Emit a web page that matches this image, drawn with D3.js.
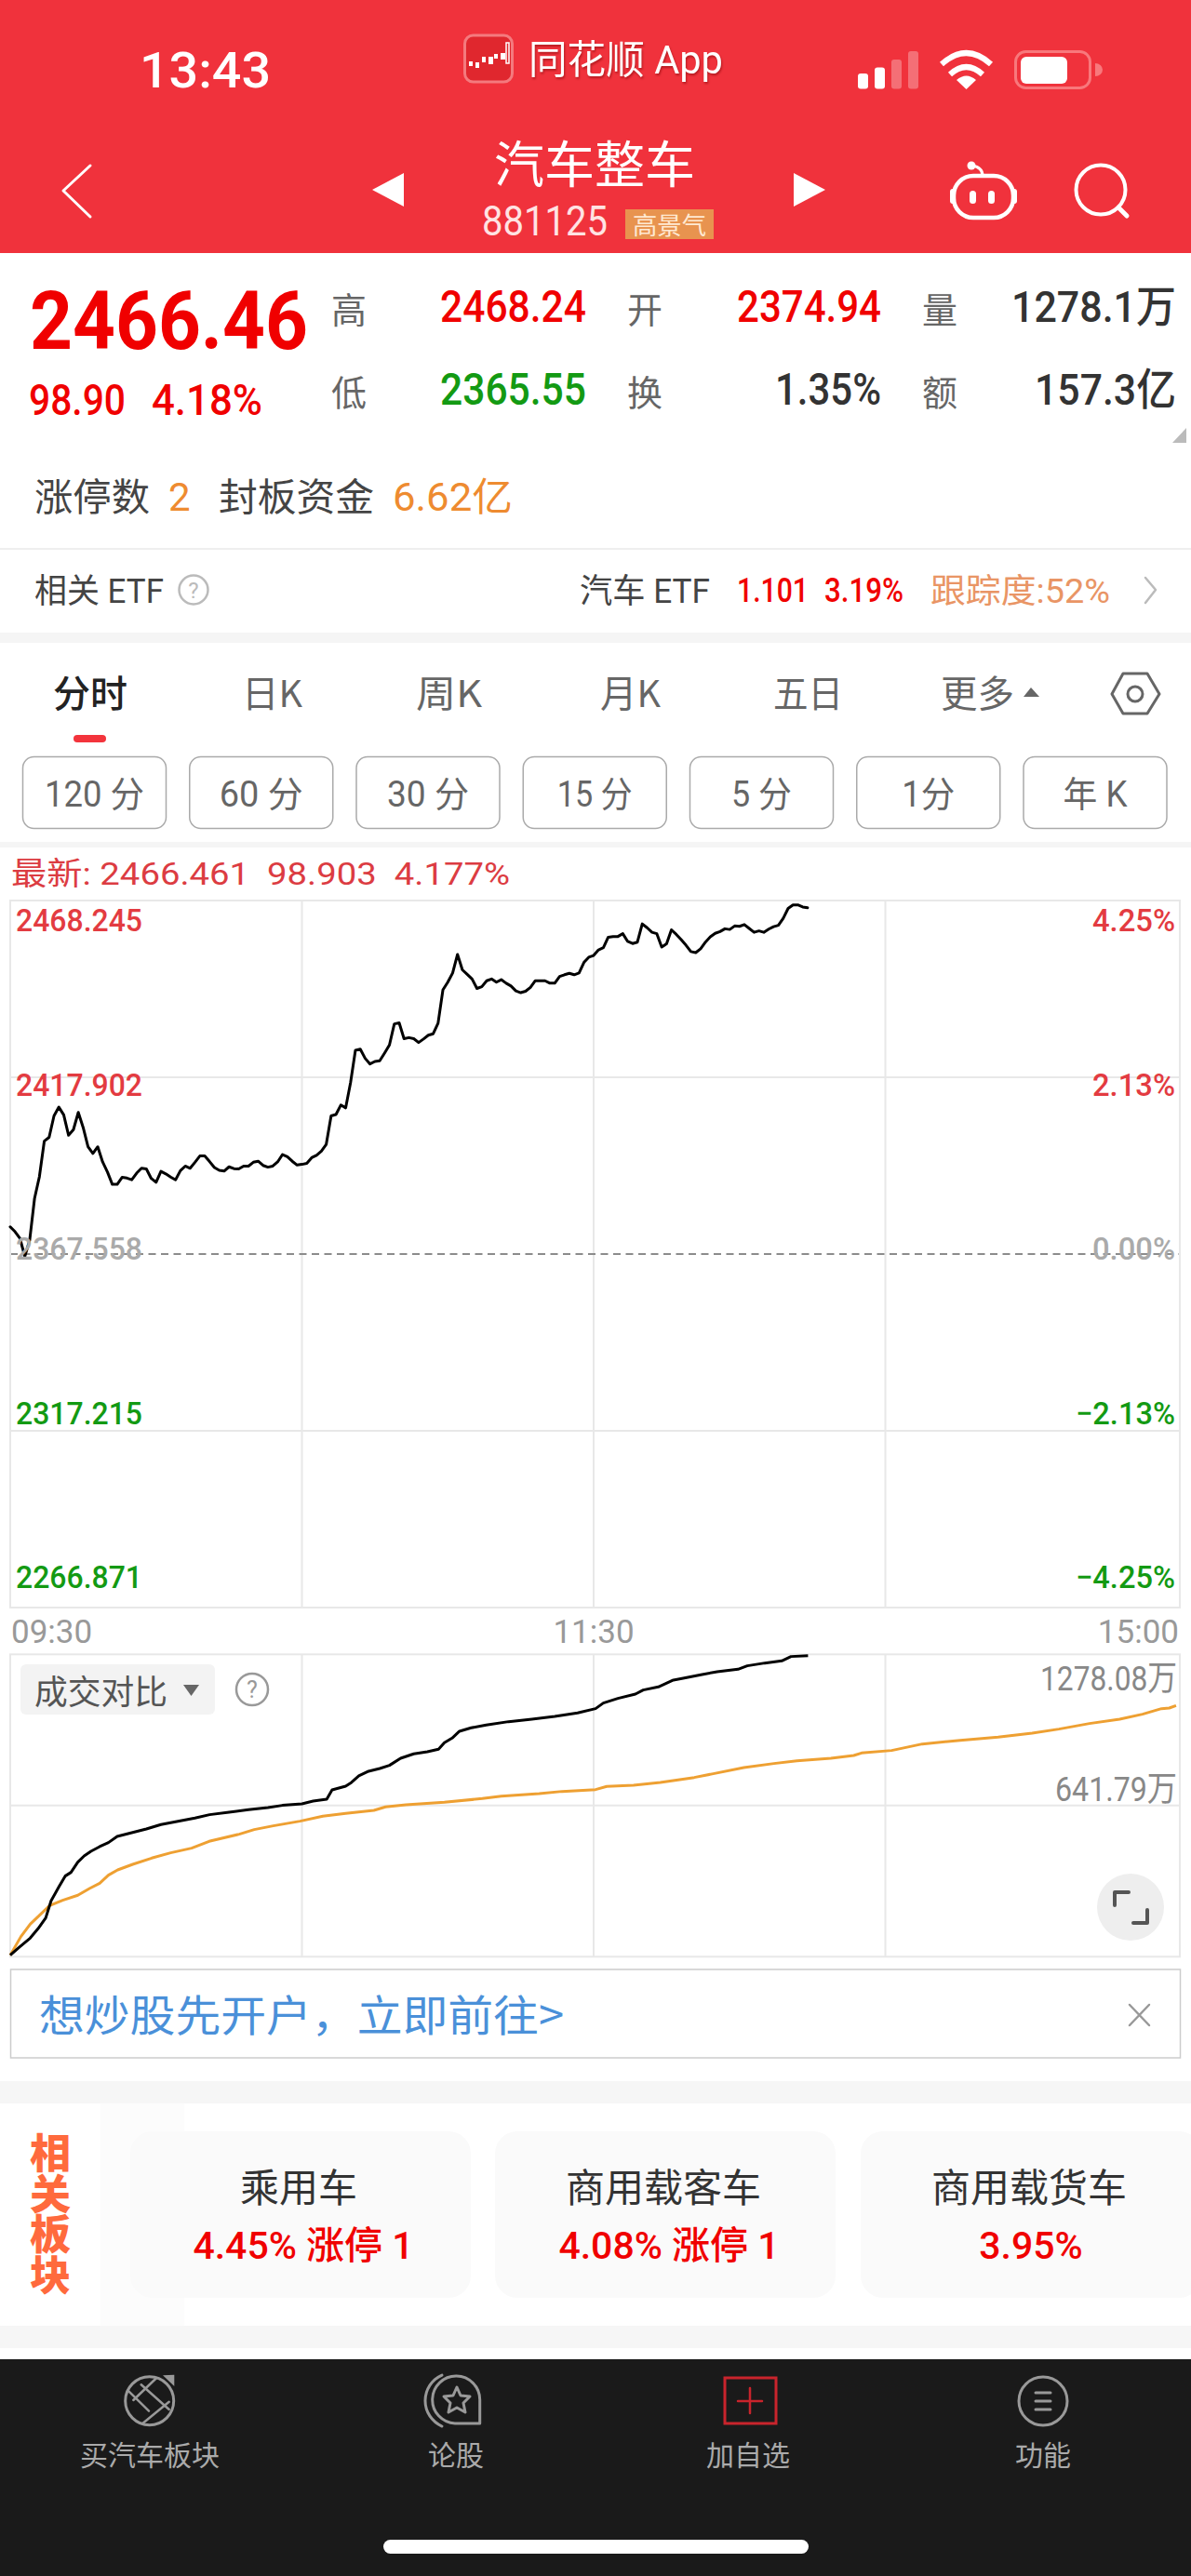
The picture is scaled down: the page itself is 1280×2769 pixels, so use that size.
<!DOCTYPE html>
<html>
<head>
<meta charset="utf-8">
<title>汽车整车</title>
<script src="https://cdn.jsdelivr.net/npm/d3@7"></script>
<style>
  html, body { margin: 0; padding: 0; background: #fff; }
  svg { display: block; }
</style>
</head>
<body>
<div id="chart"></div>
<script>
// 分时 close by minute since 09:30 (lunch break removed)
const priceValues = [
  2375.3, 2373.9, 2372.0, 2366.9, 2371.5, 2383.4, 2389.6, 2399.7, 2400.8, 2406.9,
  2409.4, 2407.2, 2401.4, 2403.0, 2407.9, 2403.6, 2398.1, 2396.2, 2398.1, 2393.8,
  2390.9, 2387.4, 2387.4, 2389.4, 2389.2, 2388.7, 2390.6, 2392.0, 2391.8, 2389.1,
  2388.0, 2391.1, 2390.4, 2389.5, 2388.7, 2391.3, 2392.6, 2392.0, 2393.7, 2395.5,
  2395.5, 2393.9, 2392.2, 2391.4, 2391.2, 2392.4, 2391.9, 2391.8, 2392.6, 2392.6,
  2393.7, 2394.0, 2392.8, 2392.3, 2392.6, 2393.8, 2395.9, 2395.3, 2394.0, 2392.9,
  2393.1, 2393.4, 2395.0, 2395.7, 2396.9, 2398.8, 2406.9, 2407.3, 2410.0, 2409.2,
  2416.4, 2425.6, 2425.9, 2423.3, 2421.7, 2422.4, 2422.6, 2424.8, 2427.1, 2433.1,
  2433.4, 2428.9, 2429.2, 2428.9, 2427.8, 2428.8, 2429.9, 2430.3, 2433.3, 2442.8,
  2445.0, 2447.6, 2452.9, 2448.5, 2447.2, 2445.9, 2443.2, 2443.7, 2445.4, 2445.9,
  2445.0, 2445.7, 2444.7, 2443.9, 2442.5, 2442.0, 2442.4, 2443.5, 2445.4, 2445.4,
  2445.4, 2444.7, 2444.7, 2446.6, 2447.1, 2447.5, 2447.1, 2447.6, 2450.6, 2452.1,
  2452.6, 2454.2, 2454.8, 2457.8, 2458.0, 2458.0, 2458.8, 2456.6, 2456.0, 2456.4,
  2461.6, 2460.5, 2459.2, 2458.8, 2455.0, 2455.9, 2459.9, 2458.6, 2457.1, 2455.5,
  2453.7, 2453.4, 2454.5, 2456.4, 2457.9, 2458.9, 2459.4, 2460.2, 2460.0, 2461.0,
  2460.9, 2461.4, 2460.3, 2459.2, 2459.6, 2459.2, 2460.1, 2460.8, 2461.2, 2463.2,
  2466.0, 2467.0, 2467.0, 2466.4, 2466.2
];

// 成交对比: cumulative volume (万), black = today, orange = previous day
const todayMinutes = [
  0, 1.8, 4.1, 5.7, 7.3, 8.4, 10, 11.3, 12.5, 13.9, 15.2, 16.6, 18.4, 20.2, 22, 25, 28, 31, 35, 38, 41, 45, 49, 53, 56, 60, 62.3,
  65.1, 66.2, 69, 70.2, 71.7, 73.7, 76, 78, 80.3, 83, 85.8, 88.1, 89.3, 90.9, 92.4, 94.8, 97.9, 102.5, 107.3, 112, 116.7, 120.4,
  122, 125, 128.6, 130.2, 133.3, 136.4, 138.4, 142.3, 145.4, 149.7, 151.6, 155.2, 158.7, 160.6, 164.1
];
const todayVolume = [
  6.6, 39.5, 79.0, 118.5, 164.6, 237.0, 296.2, 342.3, 358.1, 401.5, 427.9, 447.6, 467.4, 484.5, 510.8,
  526.6, 542.4, 560.8, 576.6, 588.5, 603.0, 613.5, 624.0, 633.2, 642.5, 649.0, 660.9,
  668.8, 708.3, 724.1, 739.9, 767.5, 787.3, 799.1, 812.3, 842.6, 861.0, 870.2, 880.7, 908.4, 928.1,
  957.1, 971.6, 983.4, 997.9, 1008.4, 1020.3, 1034.8, 1053.2,
  1076.9, 1096.6, 1115.1, 1132.2, 1145.4, 1174.3, 1182.2, 1198.0, 1209.9, 1220.4, 1234.9, 1246.7,
  1255.9, 1274.4, 1278.08
];
const prevMinutes = [
  0, 2.2, 4.1, 6.1, 8.1, 10.8, 13.9, 16.3, 18.4, 20.2, 22.1, 25.2, 29.1, 33, 37.3, 40.9, 47.1, 50.2, 54.1, 59.6, 64.3, 69, 74.8, 77.2, 81.4, 89.3,
  97.1, 101, 108.8, 113.5, 120.4, 122.7, 128.2, 133.7, 140.7, 144.6, 150.9, 157.1, 161.8, 168.8, 173.5, 175.1, 181.3, 187.6, 195.4, 203.2,
  210.2, 215.7, 222, 228.2, 232.9, 236.8, 238.4, 239.8
];
const prevVolume = [
  6.6, 85.6, 138.2, 177.7, 217.2, 239.6, 260.7, 289.6, 312.0, 346.2, 368.6, 392.3, 418.6, 441.0, 460.8,
  489.7, 520.0, 539.8, 555.6, 575.3, 596.4, 608.2, 621.4, 635.9, 645.1, 655.6,
  671.4, 681.9, 692.5, 701.7, 709.6, 722.8, 728.0, 739.9, 760.9, 776.7, 803.1, 820.2, 832.0, 842.6,
  854.4, 864.9, 875.5, 903.1, 918.9, 932.1, 949.2, 966.3, 990.0, 1008.4, 1029.5, 1053.2, 1055.8, 1066.4
];

const priceTicks = [2468.245, 2417.902, 2367.558, 2317.215, 2266.871];
const priceLabels = ["2468.245", "2417.902", "2367.558", "2317.215", "2266.871"];
const pctLabels = ["4.25%", "2.13%", "0.00%", "−2.13%", "−4.25%"];
const timeMinutes = [0, 120, 240];
const timeLabels = ["09:30", "11:30", "15:00"];
const volumeMax = 1283.58;
const volumeLabels = ["1278.08万", "641.79万"];

const tabs = ["分时", "日K", "周K", "月K", "五日", "更多"];
const periods = ["120 分", "60 分", "30 分", "15 分", "5 分", "1分", "年 K"];
const relatedNames = ["乘用车", "商用载客车", "商用载货车"];
const relatedChanges = ["4.45% 涨停 1", "4.08% 涨停 1", "3.95%"];
const footerItems = ["买汽车板块", "论股", "加自选", "功能"];

const W = 1280, H = 2769;
const RED = "#f0323c", UP = "#f00000", DOWN = "#139a13", ORANGE = "#ee8b30";
const FONT = "Roboto, 'Noto Sans CJK SC', sans-serif";
const CJK = "'Noto Sans CJK SC', sans-serif";

const svg = d3.select("#chart").append("svg")
  .attr("width", W).attr("height", H).attr("viewBox", `0 0 ${W} ${H}`)
  .style("font-family", FONT);

function txt(parent, s, x, y, o = {}) {
  const t = parent.append("text")
    .attr("x", x).attr("y", y)
    .attr("fill", o.fill || "#333")
    .attr("text-anchor", o.anchor || "start")
    .style("font-size", (o.size || 36) + "px")
    .style("font-weight", o.weight || 400)
    .style("font-family", o.font || FONT)
    .text(s);
  if (o.width) t.attr("textLength", o.width).attr("lengthAdjust", "spacingAndGlyphs");
  return t;
}
function rect(parent, x, y, w, h, fill, rx = 0) {
  return parent.append("rect").attr("x", x).attr("y", y).attr("width", w).attr("height", h)
    .attr("fill", fill).attr("rx", rx);
}
function path(parent, d, stroke, sw, fill = "none") {
  return parent.append("path").attr("d", d).attr("stroke", stroke).attr("stroke-width", sw)
    .attr("fill", fill).attr("stroke-linecap", "round").attr("stroke-linejoin", "round");
}
const SHADOW = "drop-shadow(1px 2px 1px rgba(110,0,0,.45))";

rect(svg, 0, 0, W, H, "#fff");

// Header
const head = svg.append("g");
rect(head, 0, 0, W, 272, RED);
txt(head, "13:43", 150, 94, { fill: "#fff", size: 54, weight: 500, width: 141 });

// app logo
rect(head, 499.5, 38, 51, 50, "#e0272e", 9).attr("stroke", "#f47a7e").attr("stroke-width", 3);
[[504, 66, 4, 5], [511, 67, 4, 6], [518, 61, 4, 6], [525, 61, 5, 8], [531, 58, 4, 5], [538, 57, 5, 7]].forEach(c => {
  rect(head, c[0], c[1], c[2], c[3], "#fff");
});
rect(head, 544, 46, 3, 22, "none").attr("stroke", "#fff").attr("stroke-width", 1.5);
txt(head, "同花顺 App", 568, 79, { fill: "#fff", size: 42, width: 209 }).style("filter", SHADOW);

// status icons
[[922, 79, 1], [940, 72.5, 1], [958, 64, .3], [976, 55, .3]].forEach(b => {
  rect(head, b[0], b[1], 11, 95.5 - b[1], "#fff", 3).attr("opacity", b[2]);
});
head.append("path").attr("fill", "none").attr("stroke", "#fff").attr("stroke-width", 6)
  .attr("d", "M1012,69 Q1038.5,45 1065,69");
head.append("path").attr("fill", "none").attr("stroke", "#fff").attr("stroke-width", 6)
  .attr("d", "M1021,80 Q1038.5,64 1056,80");
head.append("path").attr("d", "M1028,86 Q1038.5,77 1049,86 L1038.5,96 Z").attr("fill", "#fff");
rect(head, 1091.5, 55.5, 80, 39, "none", 11).attr("stroke", "#f8787c").attr("stroke-width", 3);
rect(head, 1097, 61, 50, 29, "#fff", 6);
head.append("path").attr("d", "M1177,68 A8,7 0 0 1 1177,82 Z").attr("fill", "#f8787c");

path(head, "M97,178 L68,205 L97,233", "#fff", 3);
head.append("path").attr("d", "M434,186 L400,204 L434,222 Z").attr("fill", "#fff");
head.append("path").attr("d", "M853,186 L887,204 L853,222 Z").attr("fill", "#fff");
txt(head, "汽车整车", 531, 197, { fill: "#fff", size: 54, font: CJK, width: 216 });
txt(head, "881125", 518, 253, { fill: "#ffe3e3", size: 44, width: 135 });
rect(head, 672, 225, 95, 32, "#e8934f");
txt(head, "高景气", 680, 252, { fill: "#ffe9d2", size: 26, font: CJK, width: 79 });

// robot + search
rect(head, 1025, 189, 64, 45, "none", 21).attr("stroke", "#fff").attr("stroke-width", 4.5);
rect(head, 1021, 203, 6, 16, "#fff", 3);
rect(head, 1087, 203, 6, 16, "#fff", 3);
path(head, "M1056,189 C1056,182 1051,179 1045,178", "#fff", 3);
head.append("circle").attr("cx", 1044).attr("cy", 178).attr("r", 4.5).attr("fill", "#fff");
rect(head, 1042, 205, 7, 14, "#fff", 3.5);
rect(head, 1062, 205, 7, 14, "#fff", 3.5);
head.append("circle").attr("cx", 1183).attr("cy", 204).attr("r", 26.5).attr("fill", "none").attr("stroke", "#fff").attr("stroke-width", 4);
path(head, "M1202,223 L1211,232", "#fff", 5);

// Quote block
const quote = svg.append("g");
txt(quote, "2466.46", 32, 375, { fill: UP, size: 88, weight: 700, width: 299 });
txt(quote, "98.90", 31, 446, { fill: UP, size: 47, weight: 500, width: 104 });
txt(quote, "4.18%", 163, 446, { fill: UP, size: 47, weight: 500, width: 119 });
const quoteLabel = { fill: "#666", size: 38, font: CJK };
txt(quote, "高", 356, 347, quoteLabel);
txt(quote, "低", 356, 436, quoteLabel);
txt(quote, "开", 674, 347, quoteLabel);
txt(quote, "换", 674, 436, quoteLabel);
txt(quote, "量", 991, 347, quoteLabel);
txt(quote, "额", 991, 436, quoteLabel);
txt(quote, "2468.24", 473, 346, { fill: UP, size: 48, weight: 500, width: 157 });
txt(quote, "2365.55", 473, 435, { fill: DOWN, size: 48, weight: 500, width: 157 });
txt(quote, "2374.94", 792, 346, { fill: UP, size: 48, weight: 500, width: 155 });
txt(quote, "1.35%", 833, 435, { fill: "#333", size: 48, weight: 500, width: 114 });
txt(quote, "1278.1万", 1087, 346, { fill: "#333", size: 47, weight: 500, width: 177 });
txt(quote, "157.3亿", 1112, 435, { fill: "#333", size: 47, weight: 500, width: 152 });
quote.append("path").attr("d", "M1275,460 L1275,476 L1260,476 Z").attr("fill", "#bbb");

txt(quote, "涨停数", 37, 549, { fill: "#444", size: 41, font: CJK, width: 124 });
txt(quote, "2", 181, 549, { fill: ORANGE, size: 42 });
txt(quote, "封板资金", 235, 549, { fill: "#444", size: 41, font: CJK, width: 167 });
txt(quote, "6.62亿", 422, 549, { fill: ORANGE, size: 42, width: 129 });

rect(quote, 0, 589, W, 2, "#eeeeee");
txt(quote, "相关 ETF", 37, 648, { fill: "#444", size: 36, width: 139 });
quote.append("circle").attr("cx", 208).attr("cy", 634).attr("r", 15.5).attr("fill", "none").attr("stroke", "#bbb").attr("stroke-width", 2.5);
txt(quote, "?", 208, 643, { fill: "#bbb", size: 24, anchor: "middle" });
txt(quote, "汽车 ETF", 623, 648, { fill: "#444", size: 36, width: 140 });
txt(quote, "1.101", 792, 647, { fill: UP, size: 36, weight: 500, width: 77 });
txt(quote, "3.19%", 886, 647, { fill: UP, size: 36, weight: 500, width: 85 });
txt(quote, "跟踪度:52%", 1000, 648, { fill: "#e99565", size: 36, width: 193 });
path(quote, "M1231,621 L1242,634 L1231,648", "#bbb", 2.5);

// Tabs
const tabBar = svg.append("g");
rect(tabBar, 0, 680, W, 11, "#f5f5f5");
const tabX = [57, 260, 447, 645, 831, 1011];
const tabW = [80, 65, 71, 65, 75, 79];
tabs.forEach((t, i) => {
  txt(tabBar, t, tabX[i], 760, {
    fill: i === 0 ? "#222" : "#666", size: 40, weight: i === 0 ? 500 : 400, font: CJK, width: tabW[i]
  });
});
rect(tabBar, 79, 790, 35, 8, "#f3343c", 4);
tabBar.append("path").attr("d", "M1100,749 L1108,739 L1117,749 Z").attr("fill", "#666");
path(tabBar, "M1207,724 L1233,724 L1246,746 L1233,767 L1207,767 L1195,746 Z", "#666", 3);
tabBar.append("circle").attr("cx", 1220).attr("cy", 746).attr("r", 8).attr("fill", "none").attr("stroke", "#666").attr("stroke-width", 3);

const periodX = d3.scalePoint().domain(periods).range([24.5, 1100]);
const periodW = [107, 90, 88, 81, 65, 57, 69];
periods.forEach((p, i) => {
  rect(tabBar, periodX(p), 813.5, 154, 77, "#fff", 12).attr("stroke", "#aaa").attr("stroke-width", 1.5);
  txt(tabBar, p, periodX(p) + 77, 867, { fill: "#666", size: 38, anchor: "middle", width: periodW[i] });
});
rect(tabBar, 0, 905, W, 6, "#f5f5f5");

// Price panel
const frameL = 11, frameR = 1268;
const panelTop = 968, panelBottom = 1728;
const x = d3.scaleLinear().domain([0, 240]).range([11, 1265]);
const y = d3.scaleLinear().domain([priceTicks[4], priceTicks[0]]).range([panelBottom, panelTop]);
const GRID = "#e8e8e8";

const price = svg.append("g");
txt(price, "最新: 2466.461  98.903  4.177%", 12, 951, { fill: "#dc3c42", size: 34, width: 536 }).style("white-space", "pre");

price.append("g").call(d3.axisBottom(x).tickValues([60, 120, 180]).tickSize(panelBottom - panelTop).tickFormat("").offset(0))
  .attr("transform", `translate(0,${panelTop})`)
  .call(ax => ax.select(".domain").remove())
  .call(ax => ax.selectAll("text").remove())
  .call(ax => ax.selectAll("line").attr("stroke", GRID).attr("stroke-width", 2));
price.append("g").call(d3.axisRight(y).tickValues(priceTicks).tickSize(frameR - frameL).tickFormat("").offset(0))
  .attr("transform", `translate(${frameL},0)`)
  .call(ax => ax.select(".domain").remove())
  .call(ax => ax.selectAll("text").remove())
  .call(ax => ax.selectAll("line")
    .attr("stroke", d => d === priceTicks[2] ? "#8c8c8c" : GRID)
    .attr("stroke-width", 2)
    .attr("stroke-dasharray", d => d === priceTicks[2] ? "8 5.5" : null));
rect(price, frameL, panelTop, frameR - frameL, panelBottom - panelTop, "none").attr("stroke", GRID).attr("stroke-width", 2);

const priceLine = d3.line().x((_, i) => x(i)).y(d => y(d));
price.append("path").datum(priceValues).attr("fill", "none").attr("stroke", "#000")
  .attr("stroke-width", 3).attr("stroke-linejoin", "round").attr("stroke-linecap", "round").attr("d", priceLine);

const labelY = d3.scalePoint().domain(priceLabels).range([1001, 1707]);
const labelColor = i => i < 2 ? "#e33b41" : i === 2 ? "#aaa" : DOWN;
priceLabels.forEach((s, i) => {
  txt(price, s, 17, labelY(s), { fill: labelColor(i), size: 33, weight: 500, width: 136 });
  txt(price, pctLabels[i], 1263, labelY(s), {
    fill: labelColor(i), size: 34, weight: 500, anchor: "end", width: i > 2 ? 107 : 89
  });
});
timeLabels.forEach((s, i) => {
  const anchor = i === 0 ? "start" : i === 1 ? "middle" : "end";
  const tx = i === 0 ? 12 : i === 2 ? 1267 : x(timeMinutes[i]);
  txt(price, s, tx, 1766, { fill: "#999", size: 35, anchor });
});

// Volume panel
const volTop = 1778.3, volBottom = 2103.3;
const yVol = d3.scaleLinear().domain([0, volumeMax]).range([volBottom, volTop]);
const vol = svg.append("g");
vol.append("g").call(d3.axisBottom(x).tickValues([60, 120, 180]).tickSize(volBottom - volTop).tickFormat("").offset(0))
  .attr("transform", `translate(0,${volTop})`)
  .call(ax => ax.select(".domain").remove())
  .call(ax => ax.selectAll("text").remove())
  .call(ax => ax.selectAll("line").attr("stroke", GRID).attr("stroke-width", 2));
vol.append("g").call(d3.axisRight(yVol).tickValues([volumeMax / 2]).tickSize(frameR - frameL).tickFormat("").offset(0))
  .attr("transform", `translate(${frameL},0)`)
  .call(ax => ax.select(".domain").remove())
  .call(ax => ax.selectAll("text").remove())
  .call(ax => ax.selectAll("line").attr("stroke", GRID).attr("stroke-width", 2));
rect(vol, frameL, volTop, frameR - frameL, volBottom - volTop, "none").attr("stroke", GRID).attr("stroke-width", 2);

const volLine = (mins) => d3.line().x((_, i) => x(mins[i])).y(d => yVol(d));
vol.append("path").datum(prevVolume).attr("fill", "none").attr("stroke", "#eea032")
  .attr("stroke-width", 3).attr("stroke-linejoin", "round").attr("d", volLine(prevMinutes));
vol.append("path").datum(todayVolume).attr("fill", "none").attr("stroke", "#000")
  .attr("stroke-width", 3).attr("stroke-linejoin", "round").attr("d", volLine(todayMinutes));

rect(vol, 22, 1789, 209, 54, "#f3f3f3", 6);
txt(vol, "成交对比", 37, 1832, { fill: "#555", size: 36, font: CJK, width: 143 });
vol.append("path").attr("d", "M197,1811 L214,1811 L205.5,1823 Z").attr("fill", "#666");
vol.append("circle").attr("cx", 271).attr("cy", 1816).attr("r", 17).attr("fill", "none").attr("stroke", "#999").attr("stroke-width", 2.5);
txt(vol, "?", 271, 1825, { fill: "#999", size: 25, anchor: "middle" });
txt(vol, volumeLabels[0], 1265, 1817, { fill: "#888", size: 37, anchor: "end", width: 147 });
txt(vol, volumeLabels[1], 1265, 1936, { fill: "#888", size: 37, anchor: "end", width: 131 });
vol.append("ellipse").attr("cx", 1215).attr("cy", 2050).attr("rx", 36).attr("ry", 36).attr("fill", "#eeeeee");
path(vol, "M1198,2048 L1198,2034 L1213,2034", "#555", 4);
path(vol, "M1233,2053 L1233,2067 L1218,2067", "#555", 4);

// Ad bar
const ad = svg.append("g");
rect(ad, 11.5, 2117, 1257, 95, "#fff").attr("stroke", "#ccc").attr("stroke-width", 1.5);
txt(ad, "想炒股先开户，立即前往>", 42, 2183, { fill: "#4a90d9", size: 46, font: CJK, width: 564 });
path(ad, "M1214,2155 L1235,2177 M1235,2155 L1214,2177", "#999", 2.5);

// Related sectors
const related = svg.append("g");
rect(related, 0, 2237, W, 24, "#f6f6f6");
rect(related, 0, 2500, W, 24, "#f6f6f6");
rect(related, 108, 2261, 90, 239, "#fcfcfc");
["相", "关", "板", "块"].forEach((c, i) => {
  txt(related, c, 54, 2331 + i * 43.5, { fill: "#ff6a3d", size: 44, weight: 900, anchor: "middle", font: CJK });
});
const cardX = [140, 532, 925];
const nameX = [321, 713, 1106];
const changeX = [326, 719, 1108];
relatedNames.forEach((n, i) => {
  rect(related, cardX[i], 2291, 366, 179, "#fafafa", 24);
  txt(related, n, nameX[i], 2367, { fill: "#333", size: 42, anchor: "middle", font: CJK });
  txt(related, relatedChanges[i], changeX[i], 2428, { fill: UP, size: 41, weight: 500, anchor: "middle" });
});

// Footer
const foot = svg.append("g");
rect(foot, 0, 2536, W, 233, "#1a1a1a");
const footerX = [161, 490, 804, 1121];
footerItems.forEach((t, i) => {
  txt(foot, t, footerX[i], 2650, { fill: "#aaa", size: 30, anchor: "middle", font: CJK });
});
const ICON = "#999";
foot.append("circle").attr("cx", 160.7).attr("cy", 2580.7).attr("r", 26).attr("fill", "none").attr("stroke", ICON).attr("stroke-width", 3);
path(foot, "M137.3,2569.3 L160,2591.7 M151.7,2563.3 L181.7,2590 M168.3,2556 L143.3,2580 M153.3,2605 L181.7,2581.7", ICON, 2.5);
foot.append("path").attr("d", "M175,2553.3 L187.3,2552.7 L187.3,2565 Z").attr("fill", ICON);
path(foot, "M475,2553 A30,30 0 0 0 475,2608", ICON, 3);
path(foot, "M515.7,2605 L489,2605 A25.5,25.5 0 1 1 515.7,2579.5 Z", ICON, 3);
path(foot, "M491,2566 L495,2575 L505,2576 L498,2583 L500,2593 L491,2588 L482,2593 L484,2583 L477,2576 L487,2575 Z", ICON, 3);
rect(foot, 779, 2556, 55, 49, "none").attr("stroke", "#c9242c").attr("stroke-width", 3);
path(foot, "M806,2567 L806,2594 M793,2581 L819,2581", "#c9242c", 2.5);
foot.append("circle").attr("cx", 1121).attr("cy", 2581).attr("r", 26).attr("fill", "none").attr("stroke", ICON).attr("stroke-width", 3);
path(foot, "M1113,2572 L1129,2572 M1113,2581 L1129,2581 M1113,2590 L1129,2590", ICON, 3);
rect(foot, 412, 2730, 457, 15, "#fff", 7.5);
</script>
</body>
</html>
